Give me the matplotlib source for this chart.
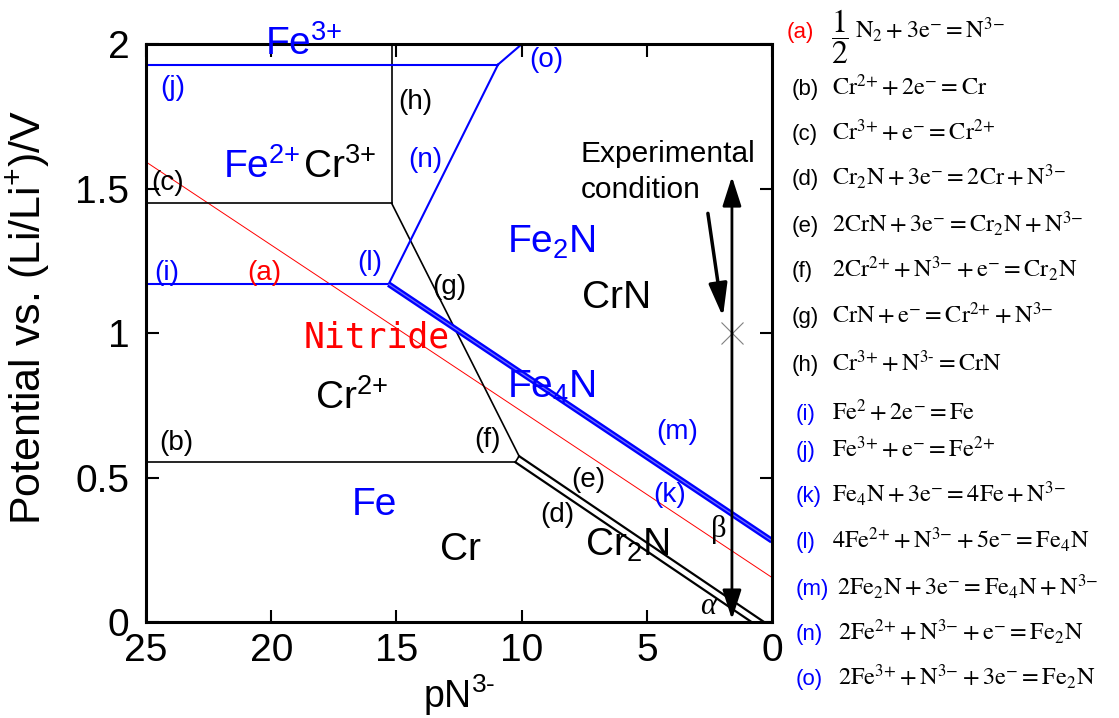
import matplotlib
matplotlib.use("Agg")
import matplotlib.pyplot as plt

plt.rcParams['font.family'] = ['Liberation Sans', 'DejaVu Sans']
plt.rcParams['mathtext.fontset'] = 'custom'
plt.rcParams['mathtext.rm'] = 'Liberation Sans'
plt.rcParams['mathtext.it'] = 'Liberation Sans:italic'
plt.rcParams['mathtext.bf'] = 'Liberation Sans:bold'

BLUE = '#0000ff'
RED = '#ff0000'

# ---- boundary lines of the potential–pN3- diagram (pN3-, potential / V) ----
a_pN, a_V = [25, 0], [1.593, 0.155]          # 1/2 N2 + 3e- = N3-
b_pN, b_V = [25, 10.25], [0.554, 0.554]      # Cr2+/Cr
c_pN, c_V = [25, 15.19], [1.45, 1.45]        # Cr3+/Cr2+
d_pN, d_V = [10.25, 0.8], [0.554, 0.0]       # Cr2N/Cr
e_pN, e_V = [10.1, 0.3], [0.575, 0.0]        # CrN/Cr2N
f_pN, f_V = [10.25, 10.1], [0.554, 0.575]    # Cr2+/Cr2N
g_pN, g_V = [15.19, 10.1], [1.45, 0.575]     # CrN/Cr2+
h_pN, h_V = [15.19, 15.19], [1.45, 2.0]      # Cr3+/CrN
i_pN, i_V = [25, 15.31], [1.17, 1.17]        # Fe2+/Fe
j_pN, j_V = [25, 10.94], [1.93, 1.93]        # Fe3+/Fe2+
km_pN, km_V = [15.31, 0], [1.17, 0.282]      # Fe4N/Fe and Fe2N/Fe4N
n_pN, n_V = [15.31, 10.94], [1.17, 1.93]     # Fe2+/Fe2N
o_pN, o_V = [10.94, 10.0], [1.93, 2.0]       # Fe3+/Fe2N

# experimental condition
exp_pN = 1.6
exp_V = 1.0
exp_range = [0.01, 1.542]

x_ticks = [25, 20, 15, 10, 5, 0]
x_ticklabels = ['25', '20', '15', '10', '5', '0']
y_ticks = [0, 0.5, 1, 1.5, 2]
y_ticklabels = ['0', '0.5', '1', '1.5', '2']

# reaction list shown to the right of the diagram
rxn_tags = ['(a)', '(b)', '(c)', '(d)', '(e)', '(f)', '(g)', '(h)',
            '(i)', '(j)', '(k)', '(l)', '(m)', '(n)', '(o)']
rxn_eqs = [
    r'$\mathrm{N_2+3e^{{-}}=N^{3{-}}}$',
    r'$\mathrm{Cr^{2{+}}+2e^{{-}}=Cr}$',
    r'$\mathrm{Cr^{3{+}}+e^{{-}}=Cr^{2{+}}}$',
    r'$\mathrm{Cr_2N+3e^{{-}}=2Cr+N^{3{-}}}$',
    r'$\mathrm{2CrN+3e^{{-}}=Cr_2N+N^{3{-}}}$',
    r'$\mathrm{2Cr^{2{+}}+N^{3{-}}+e^{{-}}=Cr_2N}$',
    r'$\mathrm{CrN+e^{{-}}=Cr^{2{+}}+N^{3{-}}}$',
    r'$\mathrm{Cr^{3{+}}+N^{3\text{-}}=CrN}$',
    r'$\mathrm{Fe^{2}+2e^{{-}}=Fe}$',
    r'$\mathrm{Fe^{3{+}}+e^{{-}}=Fe^{2{+}}}$',
    r'$\mathrm{Fe_4N+3e^{{-}}=4Fe+N^{3{-}}}$',
    r'$\mathrm{4Fe^{2{+}}+N^{3{-}}+5e^{{-}}=Fe_4N}$',
    r'$\mathrm{2Fe_2N+3e^{{-}}=Fe_4N+N^{3{-}}}$',
    r'$\mathrm{2Fe^{2{+}}+N^{3{-}}+e^{{-}}=Fe_2N}$',
    r'$\mathrm{2Fe^{3{+}}+N^{3{-}}+3e^{{-}}=Fe_2N}$',
]
rxn_colors = [RED] + ['black'] * 7 + [BLUE] * 7

W, H = 1119, 718
fig = plt.figure(figsize=(W / 100, H / 100), dpi=100)
ax = fig.add_axes([146 / W, 1 - 622.3 / H, (772 - 146) / W, (622.3 - 44.3) / H])
ax.set_xlim(25, 0)
ax.set_ylim(0, 2)

# boundaries
ax.plot(a_pN, a_V, color=RED, lw=0.7)
for px, py in [(b_pN, b_V), (c_pN, c_V), (g_pN, g_V), (h_pN, h_V), (f_pN, f_V)]:
    ax.plot(px, py, color='black', lw=1.2)
ax.plot(d_pN, d_V, color='black', lw=1.6)
ax.plot(e_pN, e_V, color='black', lw=1.6)
for px, py in [(i_pN, i_V), (j_pN, j_V), (n_pN, n_V), (o_pN, o_V)]:
    ax.plot(px, py, color=BLUE, lw=1.5)
ax.plot(km_pN, km_V, color=BLUE, lw=4.2, solid_capstyle='butt')
ax.plot(km_pN, km_V, color='#7070ff', lw=0.9, solid_capstyle='butt')

# experimental condition
ax.annotate('', xy=(exp_pN, exp_range[0]), xytext=(exp_pN, exp_range[1]),
            arrowprops=dict(arrowstyle='<|-|>,head_length=1.0,head_width=0.32',
                            mutation_scale=18, lw=2, color='black',
                            shrinkA=0, shrinkB=0))
ax.annotate('', xy=(1.96, 1.057), xytext=(2.56, 1.415),
            arrowprops=dict(arrowstyle='-|>,head_length=1.0,head_width=0.28',
                            mutation_scale=20, lw=2.5, color='black',
                            shrinkA=0, shrinkB=0))
ax.plot([exp_pN], [exp_V], marker='x', ms=16, mew=0.8, color='gray')
ax.text(7.63, 1.62, 'Experimental', fontsize=21.5, va='center', ha='left')
ax.text(7.63, 1.496, 'condition', fontsize=21.5, va='center', ha='left')

# phase labels
big = 28
ax.text(20.25, 1.963, 'Fe$^{3{+}}$', color=BLUE, fontsize=big, va='baseline', clip_on=False)
ax.text(21.92, 1.537, 'Fe$^{2{+}}$', color=BLUE, fontsize=big, va='baseline')
ax.text(18.73, 1.537, 'Cr$^{3{+}}$', color='black', fontsize=big, va='baseline')
ax.text(10.58, 1.278, 'Fe$_{2}$N', color=BLUE, fontsize=big, va='baseline')
ax.text(7.59, 1.088, 'CrN', color='black', fontsize=big, va='baseline')
ax.text(15.79, 0.985, 'Nitride', color=RED, fontsize=25, ha='center', va='center',
        family='DejaVu Sans Mono')
ax.text(18.25, 0.74, 'Cr$^{2{+}}$', color='black', fontsize=big, va='baseline')
ax.text(10.58, 0.776, 'Fe$_{4}$N', color=BLUE, fontsize=big, va='baseline')
ax.text(16.77, 0.372, 'Fe', color=BLUE, fontsize=big, va='baseline')
ax.text(13.26, 0.215, 'Cr', color='black', fontsize=big, va='baseline')
ax.text(7.47, 0.23, 'Cr$_{2}$N', color='black', fontsize=big, va='baseline')
ax.text(2.14, 0.32, 'β', fontsize=22, ha='center', va='center', family='Liberation Serif')
ax.text(2.56, 0.053, 'α', fontsize=22, ha='center', va='center', family='Liberation Serif',
        style='italic')

# boundary tags
tag_fs = 20
tags = [
    ('(j)', 23.92, 1.849, BLUE), ('(h)', 14.26, 1.80, 'black'), ('(o)', 9.03, 1.946, BLUE),
    ('(n)', 13.86, 1.60, BLUE), ('(c)', 24.12, 1.52, 'black'), ('(i)', 24.16, 1.209, BLUE),
    ('(a)', 20.29, 1.209, RED), ('(l)', 16.05, 1.244, BLUE), ('(g)', 12.9, 1.16, 'black'),
    ('(m)', 3.79, 0.659, BLUE), ('(b)', 23.8, 0.621, 'black'), ('(f)', 11.38, 0.631, 'black'),
    ('(e)', 7.35, 0.492, 'black'), ('(k)', 4.07, 0.441, BLUE), ('(d)', 8.59, 0.372, 'black'),
]
for t, px, py, col in tags:
    ax.text(px, py, t, color=col, fontsize=tag_fs, ha='center', va='center', clip_on=False)

# axes styling
ax.set_xticks(x_ticks)
ax.set_xticklabels(x_ticklabels)
ax.set_yticks(y_ticks)
ax.set_yticklabels(y_ticklabels)
ax.tick_params(direction='in', length=9, width=1.5, top=True, right=True, labelsize=28)
ax.tick_params(axis='y', pad=12)
ax.tick_params(axis='x', pad=8)
for s in ax.spines.values():
    s.set_linewidth(2.2)
ax.set_xlabel(r'pN$^{3\text{-}}$', fontsize=27, labelpad=2)
ax.set_ylabel('Potential vs. (Li/Li$^{{+}}$)/V', fontsize=31)
ax.yaxis.set_label_coords(-0.150, 0.528)

# reaction list
baselines = [38, 95, 140, 185, 231.7, 276.7, 323, 371, 420, 457, 501.7, 548.3, 595, 640, 685]
tag_x = [786.7] + [791.7] * 7 + [796] * 7
eq_x = [855] + [831.7] * 11 + [836.7, 838.3, 838.3]
for tag, eq, col, yb, tx, ex in zip(rxn_tags, rxn_eqs, rxn_colors, baselines, tag_x, eq_x):
    fig.text(tx / W, 1 - yb / H, tag, color=col, fontsize=16, va='baseline', ha='left')
    fig.text(ex / W, 1 - yb / H, eq, color='black', fontsize=17.5, va='baseline', ha='left',
             math_fontfamily='stix')
# the one-half coefficient of reaction (a), set as a large stacked fraction
fig.text(840 / W, 1 - 37 / H, r'$\dfrac{1}{2}$', fontsize=23, ha='center', va='center',
         math_fontfamily='stix')

fig.savefig('out.png', dpi=100)
